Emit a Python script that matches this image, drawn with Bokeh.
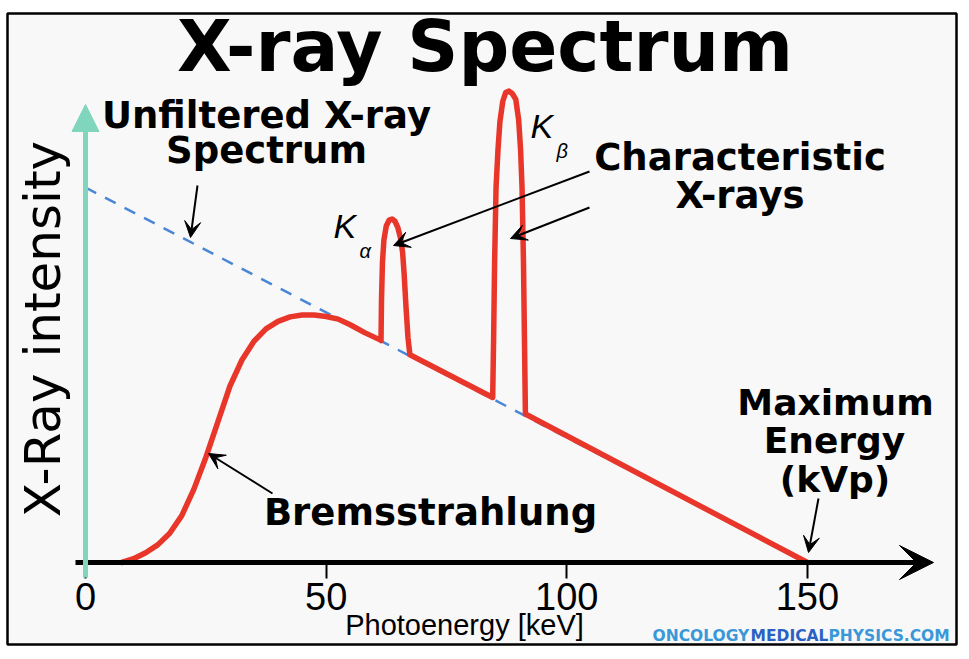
from bokeh.plotting import figure
from bokeh.models import (Range1d, LinearAxis, FixedTicker, Label, Arrow,
                          VeeHead, NormalHead)
from bokeh.embed import file_html
from bokeh.resources import INLINE

# ---------------- data ----------------
tick_values = [0, 50, 100, 150]

unfiltered_kev = [0, 150]
unfiltered_intensity = [100, 0]

bremsstrahlung_kev = [7.5, 10, 12.5, 15, 17.5, 20, 22.5, 25, 27.5, 30, 32.5,
                      35, 37.5, 40, 42.5, 45, 47.5, 50, 52.5, 55, 58, 61.3]
bremsstrahlung_int = [0, 1.0, 2.6, 4.7, 7.8, 12.5, 19.5, 28, 37.5, 47, 54,
                      59.0, 62.3, 64.3, 65.5, 66.0, 66.0, 65.6, 64.9, 63.4, 61.3, 59.3]

k_alpha_kev = [61.4, 61.5, 61.7, 62.0, 62.5, 63.1, 63.7, 64.3, 64.9, 65.5,
               65.9, 66.2, 66.6, 67.0, 67.4]
k_alpha_int = [59.2, 70, 80, 86, 89.8, 91.3, 91.6, 91.0, 89.3, 86.2,
               82.5, 77, 68, 60, 55.4]

k_beta_kev = [84.6, 84.8, 85.0, 85.3, 85.7, 86.1, 86.7, 87.3, 88.0, 88.7,
              89.4, 90.0, 90.4, 90.7, 91.0, 91.2, 91.4]
k_beta_int = [44.0, 60, 80, 100, 110, 117.5, 123, 125.3, 125.7, 125.0,
              123.5, 118, 110, 100, 80, 60, 39.6]

end_kev = [150]
end_int = [0]

spectrum_kev = bremsstrahlung_kev + k_alpha_kev + k_beta_kev + end_kev
spectrum_int = bremsstrahlung_int + k_alpha_int + k_beta_int + end_int

# ---------------- layout helpers (page pixels -> data) ----------------
X0, KEV_PX = 85.0, 4.813
Y0, UNIT_PX = 562.0, 3.75


def dx(px):
    return (px - X0) / KEV_PX


def dy(py):
    return (Y0 - py) / UNIT_PX


W, H = 969, 659
FRAME_L, FRAME_R, FRAME_T, FRAME_B = 7, 956, 13, 644

RED = "#e8362a"
BLUE = "#4a86d6"
GREEN = "#7fd6bd"

p = figure(width=W, height=H,
           x_range=Range1d(dx(FRAME_L), dx(FRAME_R)),
           y_range=Range1d(dy(FRAME_B), dy(FRAME_T)),
           x_axis_type=None, y_axis_type=None,
           output_backend="svg", toolbar_location=None,
           min_border_left=FRAME_L, min_border_right=W - FRAME_R,
           min_border_top=FRAME_T, min_border_bottom=H - FRAME_B,
           background_fill_color="#f8f8f8", border_fill_color="white",
           outline_line_color="black", outline_line_width=2.5)

# x axis (ticks + labels), placed at intensity 0
xaxis = LinearAxis(fixed_location=0, ticker=FixedTicker(ticks=tick_values),
                   axis_line_color=None,
                   major_tick_in=0, major_tick_out=16, major_tick_line_width=2,
                   major_tick_line_color="black",
                   minor_tick_line_color=None,
                   major_label_text_font="Liberation Sans",
                   major_label_text_font_size="38px",
                   major_label_text_color="black",
                   major_label_standoff=4)
p.add_layout(xaxis, "below")

# y axis: label only
yaxis = LinearAxis(fixed_location=0, ticker=FixedTicker(ticks=[]),
                   axis_line_color=None, major_tick_line_color=None,
                   minor_tick_line_color=None,
                   major_label_text_font_size="0px",
                   axis_label="X-Ray intensity",
                   axis_label_text_font="DejaVu Sans",
                   axis_label_text_font_style="normal",
                   axis_label_text_font_size="50px",
                   axis_label_text_color="black",
                   axis_label_standoff=14)
p.add_layout(yaxis, "left")

# axis arrows
p.add_layout(Arrow(x_start=dx(75), y_start=0, x_end=dx(933), y_end=0,
                   line_color="black", line_width=5,
                   end=VeeHead(size=34, fill_color="black", line_color="black")))
p.add_layout(Arrow(x_start=0, y_start=dy(577), x_end=0, y_end=dy(104),
                   line_color=GREEN, line_width=5,
                   end=NormalHead(size=27, fill_color=GREEN, line_color=GREEN)))

# unfiltered spectrum (dashed)
p.line(unfiltered_kev, unfiltered_intensity, line_color=BLUE, line_width=2.5,
       line_dash="12 10")

# filtered spectrum
p.line(spectrum_kev, spectrum_int, line_color=RED, line_width=5.5,
       line_join="round", line_cap="round")


def label(text, px, py, size, align="center", font="DejaVu Sans",
          style="bold", color="black"):
    # py is the wanted baseline on the page; Bokeh's text box sits ~0.36em lower
    p.add_layout(Label(x=dx(px), y=dy(py - 0.36 * size), text=text, text_align=align,
                       text_baseline="alphabetic", text_font=font,
                       text_font_style=style, text_font_size=f"{size}px",
                       text_color=color))


label("X-ray Spectrum", 484.5, 71.7, 71)
label("Unfiltered X-ray", 266, 128, 37)
label("Spectrum", 266, 163, 37)
label("Characteristic", 739.5, 170, 37)
label("X-rays", 739.5, 208, 37)
label("Maximum", 835, 415, 36)
label("Energy", 834, 453, 36)
label("(kVp)", 834.5, 491.7, 36)
label("Bremsstrahlung", 430, 525, 37)

label("Photoenergy [keV]", 464, 635, 29, font="Liberation Sans", style="normal")

label("K", 333, 238, 34, align="left", font="Liberation Sans", style="italic")
label("\u03b1", 359, 258, 20, align="left", font="Liberation Sans", style="italic")
label("K", 530, 138, 34, align="left", font="Liberation Sans", style="italic")
label("\u03b2", 556, 158, 20, align="left", font="Liberation Sans", style="italic")

# watermark
label("ONCOLOGY", 652, 641, 15.5, align="left", color="#3a98d8")
label("MEDICAL", 750, 641, 15.5, align="left", color="#2a62c4")
label("PHYSICS.COM", 828, 641, 15.5, align="left", color="#3a98d8")


# annotation arrows
def pointer(x0, y0, x1, y1):
    p.add_layout(Arrow(x_start=dx(x0), y_start=dy(y0), x_end=dx(x1), y_end=dy(y1),
                       line_color="black", line_width=2,
                       end=VeeHead(size=16, fill_color="black", line_color="black")))


pointer(197, 185, 190, 237)
pointer(589, 171, 393, 245)
pointer(589, 207, 510, 238)
pointer(272, 493, 208, 453)
pointer(818, 498, 808, 552)

open("out.html", "w").write(file_html(p, INLINE))
